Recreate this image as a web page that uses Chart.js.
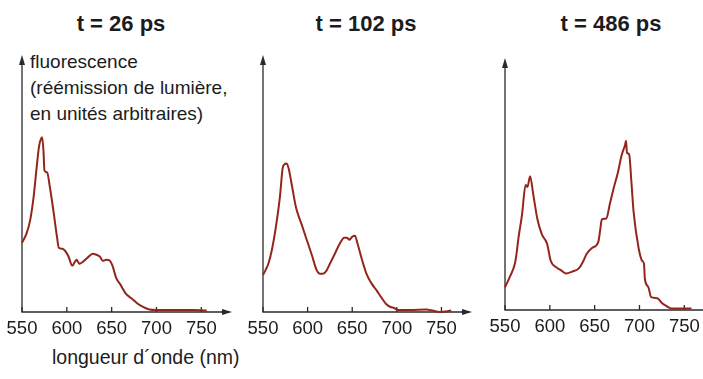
<!DOCTYPE html>
<html>
<head>
<meta charset="utf-8">
<script src="https://cdn.jsdelivr.net/npm/chart.js@4.4.0/dist/chart.umd.min.js"></script>
<style>
  html, body { margin:0; padding:0; background:#fff; width:703px; height:379px; overflow:hidden; }
  body { position:relative; font-family:"Liberation Sans", Arial, sans-serif; color:#1c1c1c; }
  canvas { position:absolute; left:0; top:0; }
  .title { position:absolute; top:13px; font-weight:bold; font-size:22px; line-height:22px; transform:translateX(-50%); white-space:nowrap; }
  .ylab { position:absolute; left:30px; top:49px; font-size:19px; line-height:26px; white-space:nowrap; }
  .xlab { position:absolute; left:52px; top:347px; font-size:19.5px; line-height:20px; white-space:nowrap; }
</style>
</head>
<body>
<div class="title" style="left:121px">t = 26 ps</div>
<div class="title" style="left:366px">t = 102 ps</div>
<div class="title" style="left:611px">t = 486 ps</div>
<div class="ylab">fluorescence<br>(réémission de lumière,<br>en unités arbitraires)</div>
<div class="xlab">longueur d´onde (nm)</div>
<canvas id="c1" width="720" height="379"></canvas>
<canvas id="c2" width="720" height="379"></canvas>
<canvas id="c3" width="720" height="379"></canvas>
<script>
// wavelength (nm) and fluorescence (arbitrary units)
const tickVals = [550, 600, 650, 700, 750];

const nm26 = [550,555,559,563,566,569,571,572.5,574,575,578,581,585,589,591,595,598,602,606,609,611,614,618,623,629,633,637,640,644,648,651,655,660,666,670,673,678,685,692,700,720,740,756];
const fl26 = [69,78,91,115,141,165,172,174,160,141,139,125,101,75,64,63,61,55,46,50,52,48,50,54,58,57,55,51,52,51,46,34,27,18,15,13,9,5,2.5,2,2,2,1.5];

const nm102 = [550,553,556,560,565,569,572,574,576.5,579,582,587,593,599,605,610,614,617,621,625,630,636,641,644,647,650,653,656,660,666,672,677,683,688,693,697,701,715,733,740,748,755,761];
const fl102 = [37,42,48,62,88,115,143,147,148,142,128,104,88,72,56,42,38,38,41,48,57,68,74,74,72,75,76,68,55,38,28,22,14,8,5,4,2,2,2.5,1.5,0,0.5,1.5];

const nm486 = [550,555,561,563,565,569,573,575,578,581.6,586,591,597,601,608,613,618,625,632,637,641,647,654,656,658,663,667,671,676,680,684,685,686,688.5,691,693.4,699,703,705,706,710,713,720,725,730,733,736,758];
const fl486 = [23,33,47,58,73,97,127,125,136,117,93,77,67,50,43,40,37,39,42,49,57,63,69,80,92,93,108,123,140,157,168,172,160,158,130,100,63,50,47,32,23,13,12,7,4,2.5,1.5,1.5];

const X_MAX = 782, Y_MAX = 254;

// arrowed axes with small inward ticks
const arrowAxes = {
  id: 'arrowAxes',
  beforeDatasetsDraw(chart) {
    const { ctx, chartArea: a, scales } = chart;
    ctx.save();
    ctx.strokeStyle = '#2a2a2a';
    ctx.fillStyle = '#2a2a2a';
    ctx.lineWidth = 1.3;
    ctx.beginPath();
    ctx.moveTo(a.left, a.top + 4);
    ctx.lineTo(a.left, a.bottom);
    ctx.lineTo(a.right - 4, a.bottom);
    ctx.stroke();
    // arrow heads
    ctx.beginPath();
    ctx.moveTo(a.left, a.top - 2);
    ctx.lineTo(a.left - 3, a.top + 8);
    ctx.lineTo(a.left + 3, a.top + 8);
    ctx.closePath();
    ctx.fill();
    ctx.beginPath();
    ctx.moveTo(a.right + 2, a.bottom);
    ctx.lineTo(a.right - 8, a.bottom - 3);
    ctx.lineTo(a.right - 8, a.bottom + 3);
    ctx.closePath();
    ctx.fill();
    tickVals.forEach(v => {
      const x = scales.x.getPixelForValue(v);
      ctx.beginPath();
      ctx.moveTo(x, a.bottom);
      ctx.lineTo(x, a.bottom - 5);
      ctx.stroke();
    });
    ctx.restore();
  }
};

function makePanel(id, nm, fl, left, top, right, bottom) {
  new Chart(document.getElementById(id), {
    type: 'line',
    data: {
      datasets: [{
        data: nm.map((v, i) => ({ x: v, y: fl[i] })),
        borderColor: '#93261c',
        borderWidth: 2,
        pointRadius: 0,
        cubicInterpolationMode: 'monotone',
        fill: false,
        clip: false
      }]
    },
    options: {
      responsive: false,
      animation: false,
      devicePixelRatio: 1,
      layout: { padding: { left: left, top: top, right: 720 - right, bottom: 379 - bottom - 40 } },
      plugins: { legend: { display: false }, tooltip: { enabled: false } },
      scales: {
        x: {
          type: 'linear', min: 550, max: X_MAX,
          grid: { display: false, drawTicks: false },
          border: { display: false },
          afterBuildTicks: s => { s.ticks = tickVals.map(v => ({ value: v })); },
          afterFit: s => { s.height = 40; },
          ticks: {
            autoSkip: false, maxRotation: 0, padding: 6,
            color: '#1c1c1c',
            font: { family: '"Liberation Sans", Arial, sans-serif', size: 18.5 }
          }
        },
        y: { display: false, min: 0, max: Y_MAX }
      }
    },
    plugins: [arrowAxes]
  });
}

makePanel('c1', nm26, fl26, 22, 57, 230, 312);
makePanel('c2', nm102, fl102, 263, 57, 470, 312);
makePanel('c3', nm486, fl486, 505, 60, 713, 310);
</script>
</body>
</html>
